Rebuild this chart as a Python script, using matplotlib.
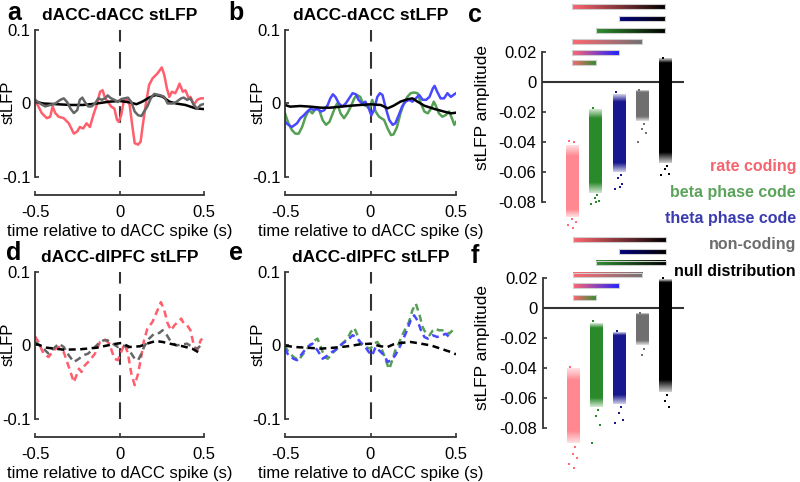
import numpy as np
import matplotlib.pyplot as plt
import matplotlib.colors as mcolors
from matplotlib.patches import Rectangle

plt.rcParams['font.family'] = ['Liberation Sans', 'DejaVu Sans']
plt.rcParams['font.size'] = 12
plt.rcParams['axes.unicode_minus'] = False

RED = '#FF5E6C'
GREEN = '#55A055'
BLUE = '#4848FF'
GRAY = '#666666'
BLACK = '#000000'
AXC = '#333333'

# ---- panel a: dACC-dACC, rate coding / non-coding / null
a_red_t = [-0.5, -0.46, -0.43, -0.41, -0.396, -0.38, -0.36, -0.33, -0.30, -0.27, -0.25, -0.235, -0.215, -0.195,
           -0.175, -0.155, -0.135, -0.115, -0.10, -0.085, -0.07, -0.05, -0.03, -0.015, -0.005, 0.01, 0.025, 0.04,
           0.06, 0.075, 0.09, 0.11, 0.125, 0.135, 0.155, 0.175, 0.195, 0.225, 0.25, 0.265, 0.28, 0.295, 0.31, 0.33,
           0.345, 0.355, 0.375, 0.39, 0.41, 0.42, 0.44, 0.46, 0.48, 0.495]
a_red_v = [0.005, -0.013, -0.020, -0.018, -0.004, -0.013, -0.018, -0.020, -0.027, -0.041, -0.038, -0.032, -0.034,
           -0.027, -0.032, -0.016, -0.002, 0.016, 0.018, 0.007, 0.003, -0.004, -0.007, -0.022, -0.025, -0.016, 0.003,
           0.007, -0.002, -0.029, -0.054, -0.056, -0.052, -0.034, -0.002, 0.025, 0.034, 0.041, 0.049, 0.039, 0.021,
           0.009, 0.016, 0.014, 0.021, 0.027, 0.016, 0.018, 0.007, 0.009, -0.002, 0.005, 0.007, 0.007]
a_gray_t = [-0.5, -0.47, -0.44, -0.41, -0.38, -0.35, -0.33, -0.31, -0.29, -0.27, -0.25, -0.235, -0.22, -0.205,
            -0.185, -0.165, -0.145, -0.125, -0.105, -0.085, -0.07, -0.05, -0.03, -0.01, 0.01, 0.03, 0.05, 0.07, 0.09,
            0.11, 0.13, 0.145, 0.165, 0.185, 0.205, 0.225, 0.245, 0.265, 0.285, 0.315, 0.335, 0.365, 0.38, 0.40,
            0.42, 0.44, 0.46, 0.48, 0.495]
a_gray_v = [0.005, 0, -0.004, -0.002, 0, 0.005, 0.007, 0.002, -0.007, -0.013, -0.009, 0.005, 0.008, 0.002, -0.004,
            -0.004, 0, 0.007, 0.005, 0.007, 0.011, 0.007, 0.005, 0.002, 0.006, 0.007, 0.008, 0.002, -0.011, -0.016,
            -0.017, -0.011, -0.004, 0.007, 0.013, 0.012, 0.011, 0.009, 0, 0, 0.002, 0.007, 0.008, 0.005, 0.007,
            -0.002, -0.007, -0.002, -0.001]
a_null_t = [-0.5, -0.45, -0.37, -0.29, -0.215, -0.135, -0.06, 0, 0.06, 0.10, 0.135, 0.175, 0.215, 0.255, 0.295,
            0.335, 0.39, 0.45, 0.495]
a_null_v = [0.0025, 0, -0.001, -0.002, -0.002, 0, 0.0025, 0.0034, 0.0016, -0.001, 0.0025, 0.008, 0.0116, 0.0093,
            0.0025, 0, -0.002, -0.0066, -0.0075]

# ---- panel b: dACC-dACC, theta / beta / null
b_blue_t = [-0.5, -0.48, -0.46, -0.43, -0.41, -0.39, -0.37, -0.35, -0.33, -0.31, -0.29, -0.27, -0.25, -0.235, -0.22,
            -0.205, -0.185, -0.165, -0.145, -0.125, -0.105, -0.085, -0.07, -0.05, -0.03, -0.01, 0.005, 0.02, 0.04,
            0.055, 0.07, 0.09, 0.11, 0.13, 0.145, 0.165, 0.185, 0.205, 0.225, 0.245, 0.265, 0.285, 0.305, 0.325,
            0.345, 0.365, 0.375, 0.39, 0.41, 0.43, 0.45, 0.47, 0.49, 0.5]
b_blue_v = [-0.025, -0.029, -0.032, -0.027, -0.020, -0.016, -0.011, -0.007, -0.009, -0.007, -0.011, -0.009, -0.002,
            0.007, 0.0125, 0.009, 0, -0.004, 0, 0.007, 0.014, 0.0125, 0.005, 0, 0.0025, -0.007, -0.016, -0.009, 0.009,
            0.014, 0.0116, -0.007, -0.0225, -0.029, -0.027, -0.016, -0.004, 0.0025, 0.005, 0.0025, 0.007, 0.0116,
            0.005, 0.005, 0.009, 0.0207, 0.024, 0.016, 0.007, 0.007, 0.014, 0.009, 0.0125, 0.014]
b_green_t = [-0.5, -0.48, -0.46, -0.44, -0.42, -0.40, -0.38, -0.36, -0.34, -0.32, -0.30, -0.28, -0.26, -0.24, -0.225,
             -0.205, -0.195, -0.175, -0.155, -0.135, -0.115, -0.095, -0.08, -0.06, -0.04, -0.02, -0.005, 0.01, 0.03,
             0.05, 0.08, 0.10, 0.12, 0.135, 0.155, 0.175, 0.195, 0.215, 0.235, 0.255, 0.275, 0.295, 0.315, 0.335,
             0.355, 0.37, 0.38, 0.40, 0.42, 0.44, 0.46, 0.48, 0.49, 0.5]
b_green_v = [-0.0134, -0.027, -0.036, -0.041, -0.041, -0.032, -0.018, -0.009, -0.0134, -0.0066, -0.009, -0.0225,
             -0.029, -0.025, -0.016, -0.004, 0, -0.0134, -0.020, -0.0134, -0.004, 0.007, 0.0116, 0.009, -0.002, -0.004,
             -0.0066, 0.005, -0.011, -0.018, -0.0225, -0.034, -0.043, -0.042, -0.032, -0.0134, 0, 0.009, 0.014, 0.015,
             0.014, 0, -0.011, -0.0134, -0.0066, 0.0025, -0.002, -0.0134, -0.018, -0.0157, -0.011, -0.0225, -0.029,
             -0.025]
b_null_t = [-0.5, -0.47, -0.41, -0.35, -0.29, -0.235, -0.175, -0.115, -0.06, 0, 0.06, 0.10, 0.135, 0.175, 0.215,
            0.245, 0.275, 0.315, 0.375, 0.43, 0.47, 0.5]
b_null_v = [-0.002, -0.0043, -0.0034, -0.0043, -0.0057, -0.0057, -0.0043, -0.003, -0.002, -0.0011, -0.002, -0.0066,
            -0.003, 0.0025, 0.0057, 0.007, 0.0025, -0.003, -0.0075, -0.011, -0.0134, -0.0125]

# ---- panel d: dACC-dlPFC, rate / non-coding / null
d_red_t = [-0.5, -0.48, -0.45, -0.42, -0.39, -0.36, -0.33, -0.30, -0.27, -0.24, -0.225, -0.205, -0.175, -0.145,
           -0.115, -0.085, -0.06, -0.03, -0.01, 0.01, 0.03, 0.05, 0.07, 0.09, 0.11, 0.13, 0.145, 0.165, 0.195, 0.225,
           0.245, 0.265, 0.285, 0.305, 0.325, 0.345, 0.365, 0.38, 0.40, 0.42, 0.44, 0.46, 0.48, 0.49]
d_red_v = [0.0125, 0.0048, -0.011, -0.0157, -0.0066, -0.002, -0.0089, -0.029, -0.050, -0.0316, -0.036, -0.027,
           -0.020, -0.011, 0.0048, 0.008, 0.0025, -0.018, -0.020, -0.0089, 0.0025, -0.011, -0.0384, -0.054, -0.0384,
           -0.0134, 0.007, 0.023, 0.032, 0.048, 0.059, 0.048, 0.030, 0.0207, 0.0275, 0.032, 0.0366, 0.030, 0.0275,
           0.0207, 0, -0.0066, 0.007, 0.0093]
d_gray_t = [-0.5, -0.47, -0.44, -0.42, -0.39, -0.36, -0.33, -0.30, -0.27, -0.24, -0.215, -0.185, -0.155, -0.125,
            -0.095, -0.07, -0.04, -0.01, 0.02, 0.05, 0.07, 0.09, 0.11, 0.13, 0.145, 0.175, 0.205, 0.235, 0.255, 0.275,
            0.305, 0.335, 0.375, 0.40, 0.43, 0.46, 0.48, 0.49]
d_gray_v = [0.0048, 0, -0.0066, -0.011, -0.0043, 0.0025, -0.002, -0.0134, -0.0225, -0.018, -0.0134, -0.011, -0.0043,
            0.0025, 0.007, 0.007, 0.0025, -0.002, 0, -0.002, -0.011, -0.018, -0.020, -0.011, -0.002, 0.0093, 0.016,
            0.017, 0.0207, 0.016, 0.0048, 0, 0.0016, 0.0025, -0.002, -0.0043, 0, 0.0025]
d_null_t = [-0.5, -0.43, -0.33, -0.235, -0.135, -0.04, 0.01, 0.06, 0.12, 0.175, 0.215, 0.255, 0.315, 0.375, 0.43,
            0.48]
d_null_v = [0.0025, -0.003, -0.0057, -0.0052, -0.003, 0.0016, 0.0034, -0.002, -0.0011, 0.0034, 0.0061, 0.0048,
            0.0016, -0.0011, -0.0043, -0.011]

# ---- panel e: dACC-dlPFC, beta / theta / null
e_green_t = [-0.5, -0.48, -0.45, -0.42, -0.40, -0.37, -0.34, -0.31, -0.29, -0.27, -0.25, -0.225, -0.195, -0.165,
             -0.135, -0.115, -0.095, -0.08, -0.06, -0.03, 0, 0.02, 0.04, 0.06, 0.08, 0.10, 0.11, 0.13, 0.145, 0.165,
             0.185, 0.205, 0.225, 0.245, 0.265, 0.285, 0.305, 0.325, 0.345, 0.365, 0.38, 0.40, 0.43, 0.46, 0.48, 0.5]
e_green_v = [0, -0.0089, -0.0157, -0.020, -0.0134, -0.0043, 0.0048, 0.0093, -0.002, -0.0157, -0.018, -0.011, -0.0043,
             0.0025, 0.0093, 0.0184, 0.024, 0.016, 0.0025, -0.002, -0.0043, 0.0025, 0.0048, -0.002, -0.0134, -0.027,
             -0.032, -0.018, -0.0066, 0.0025, 0.0139, 0.023, 0.032, 0.048, 0.057, 0.043, 0.025, 0.016, 0.0139, 0.0207,
             0.023, 0.0207, 0.0207, 0.016, 0.0207, 0.0207]
e_blue_t = [-0.5, -0.48, -0.45, -0.43, -0.40, -0.37, -0.34, -0.31, -0.28, -0.25, -0.225, -0.195, -0.165, -0.135,
            -0.105, -0.085, -0.06, -0.03, -0.01, 0.01, 0.03, 0.05, 0.08, 0.10, 0.12, 0.145, 0.175, 0.205, 0.235, 0.255,
            0.275, 0.295, 0.315, 0.335, 0.365, 0.39, 0.42, 0.44, 0.46, 0.48]
e_blue_v = [-0.0043, -0.0134, -0.018, -0.020, -0.011, -0.002, 0.0025, -0.0066, -0.018, -0.0134, -0.0089, -0.0043,
            0.0025, 0.007, 0.0139, 0.0116, 0.0048, -0.002, -0.0089, -0.0134, -0.002, -0.0066, -0.0134, -0.0225, -0.020,
            -0.0134, 0, 0.016, 0.034, 0.041, 0.034, 0.0207, 0.0116, 0.0093, 0.0139, 0.0116, 0.0139, 0.016, 0.0116,
            0.0093]
e_null_t = [-0.5, -0.45, -0.37, -0.29, -0.215, -0.135, -0.06, 0, 0.06, 0.10, 0.135, 0.175, 0.235, 0.295, 0.355, 0.41,
            0.47, 0.5]
e_null_v = [0, -0.002, -0.003, -0.0043, -0.003, -0.0011, 0.0016, 0.0025, -0.0011, -0.002, 0.0016, 0.0034, 0.0048,
            0.0025, 0, -0.0043, -0.0089, -0.012]

# ---- panels c / f: stLFP amplitude distributions (order: rate, beta, theta, non-coding, null)
groups = ['rate coding', 'beta phase code', 'theta phase code', 'non-coding', 'null distribution']
dot_colors = ['#FF6A76', '#2A8A2A', '#17178F', '#707070', '#000000']
label_colors = ['#F4646E', '#5BA35B', '#3B3BB0', '#6D6D6D', '#000000']
# dense core (top, bottom), looser zone (top, bottom), isolated dots
c_core = [(-0.049, -0.085), (-0.024, -0.067), (-0.013, -0.054), (-0.0067, -0.023), (0.013, -0.047)]
c_mid = [(-0.042, -0.090), (-0.018, -0.074), (-0.008, -0.060), (-0.0055, -0.026), (0.016, -0.054)]
c_dots = [[-0.039, -0.040, -0.091, -0.093, -0.095, -0.097],
          [-0.017, -0.075, -0.077, -0.079, -0.081, -0.080],
          [-0.0067, -0.062, -0.064, -0.068, -0.071, -0.070],
          [-0.0053, -0.028, -0.031, -0.034, -0.040],
          [0.016, -0.056, -0.058, -0.061, -0.062]]
f_core = [(-0.048, -0.082), (-0.013, -0.060), (-0.018, -0.058), (-0.005, -0.022), (0.017, -0.048)]
f_mid = [(-0.040, -0.090), (-0.010, -0.066), (-0.016, -0.064), (-0.004, -0.025), (0.019, -0.056)]
f_dots = [[-0.039, -0.093, -0.097, -0.100, -0.104, -0.107],
          [-0.0087, -0.068, -0.072, -0.078, -0.090],
          [-0.015, -0.066, -0.070, -0.075, -0.077],
          [-0.0035, -0.027, -0.031],
          [0.020, -0.058, -0.062, -0.066]]
# significance bars: (from group, to group), top to bottom
bar_pairs = [(1, 5), (3, 5), (2, 5), (1, 4), (1, 3), (1, 2)]
bar_start = ['#FF6670', '#000080', '#2F8F2F', '#FF6670', '#FF6670', '#FF6670']
bar_end = ['#000000', '#000000', '#000000', '#707070', '#2020FF', '#2F8F2F']
c_bar_y = [0.0502, 0.0425, 0.0345, 0.0269, 0.0198, 0.0129]
f_bar_y = [0.0457, 0.0377, 0.0300, 0.0220, 0.0147, 0.0067]

fig = plt.figure(figsize=(8, 4.82), dpi=100)
W, H = 800, 482


def add_ax(x0, y0, x1, y1):
    return fig.add_axes([x0 / W, 1 - y1 / H, (x1 - x0) / W, (y1 - y0) / H])


def line_panel(ax, title):
    ax.set_xlim(-0.5, 0.5)
    ax.set_ylim(-0.1245, 0.1)
    ax.spines['top'].set_visible(False)
    ax.spines['right'].set_visible(False)
    ax.spines['left'].set_bounds(-0.1, 0.1)
    for s in ['left', 'bottom']:
        ax.spines[s].set_color(AXC)
        ax.spines[s].set_linewidth(1.3)
    ax.set_xticks([-0.5, 0, 0.5])
    ax.set_xticklabels(['-0.5', '0', '0.5'])
    ax.set_yticks([-0.1, 0, 0.1])
    ax.set_yticklabels(['-0.1', '0', '0.1'])
    ax.tick_params(direction='in', length=3, width=1.2, color=AXC, pad=3)
    ax.tick_params(axis='x', pad=7)
    ax.plot([0, 0], [-0.1, 0.1], color=AXC, lw=1.5, dashes=(8, 5), zorder=1)
    ax.set_xlabel('time relative to dACC spike (s)', labelpad=3)
    ax.set_ylabel('stLFP')
    ax.yaxis.set_label_coords(-0.112, 0.56)
    ax.set_title(title, fontweight='bold', fontsize=12.5, pad=7)


def cloud(ax, x, w, col, core, mid, amax):
    # dense column, fading out towards the sparse ends
    n = 200
    ys = np.linspace(mid[1], mid[0], n)
    alpha = np.interp(ys, [mid[1], core[1], core[0], mid[0]], [0.2, amax, amax, 0.2])
    rgba = np.zeros((n, 1, 4))
    rgba[..., :3] = mcolors.to_rgb(col)
    rgba[:, 0, 3] = alpha
    ax.imshow(rgba, extent=[x - w / 2, x + w / 2, mid[1], mid[0]], origin='lower', aspect='auto',
              interpolation='bilinear', zorder=2)


def dist_panel(ax, core, mid, dots, bar_y, ylim):
    for s in ['top', 'right', 'bottom']:
        ax.spines[s].set_visible(False)
    ax.spines['left'].set_bounds(-0.08, 0.02)
    ax.spines['left'].set_color(AXC)
    ax.spines['left'].set_linewidth(1.3)
    ax.set_xticks([])
    ax.set_yticks([0.02, 0, -0.02, -0.04, -0.06, -0.08])
    ax.set_yticklabels(['0.02', '0', '-0.02', '-0.04', '-0.06', '-0.08'])
    ax.tick_params(direction='in', length=3, width=1.2, color=AXC, pad=4)
    ax.axhline(0, color=AXC, lw=1.5, zorder=1)
    offs = [-0.12, 0.08, -0.02, 0.15, -0.18, 0.04, 0.11]
    for i in range(5):
        x = i + 1
        cloud(ax, x, 0.52, dot_colors[i], core[i], mid[i], 0.8 if i == 0 else 1.0)
        ax.plot([x + offs[k % len(offs)] for k in range(len(dots[i]))], dots[i], 's',
                ms=1.8, mew=0, color=dot_colors[i], zorder=2)
    h = 0.0033
    for (g0, g1), y, c0, c1 in zip(bar_pairs, bar_y, bar_start, bar_end):
        a0 = np.array(mcolors.to_rgb(c0))
        a1 = np.array(mcolors.to_rgb(c1))
        ramp = a0 + (a1 - a0) * np.linspace(0, 1, 64)[:, None]
        ax.imshow(ramp[None, :, :], extent=[g0, g1, y - h / 2, y + h / 2], aspect='auto',
                  interpolation='bilinear', zorder=3)
        ax.add_patch(Rectangle((g0, y - h / 2), g1 - g0, h, fill=False, ec='#cfcfcf', lw=0.8, zorder=4))
    ax.set_xlim(-0.3, 5.8)
    ax.set_ylim(*ylim)


ax_a = add_ax(35, 30, 204, 195)
line_panel(ax_a, 'dACC-dACC stLFP')
ax_a.plot(a_red_t, a_red_v, color=RED, lw=1.8)
ax_a.plot(a_null_t, a_null_v, color=BLACK, lw=1.8)
ax_a.plot(a_gray_t, a_gray_v, color=GRAY, lw=1.8)

ax_b = add_ax(285, 30, 456, 195)
line_panel(ax_b, 'dACC-dACC stLFP')
ax_b.plot(b_green_t, b_green_v, color=GREEN, lw=1.8)
ax_b.plot(b_blue_t, b_blue_v, color=BLUE, lw=1.8)
ax_b.plot(b_null_t, b_null_v, color=BLACK, lw=1.8)

ax_d = add_ax(35, 272, 204, 437)
line_panel(ax_d, 'dACC-dlPFC stLFP')
ax_d.plot(d_red_t, d_red_v, color=RED, lw=1.8, dashes=(2.8, 1.8))
ax_d.plot(d_gray_t, d_gray_v, color=GRAY, lw=1.8, dashes=(2.8, 1.8))
ax_d.plot(d_null_t, d_null_v, color=BLACK, lw=1.8, dashes=(2.8, 1.8))

ax_e = add_ax(285, 272, 456, 437)
line_panel(ax_e, 'dACC-dlPFC stLFP')
ax_e.plot(e_green_t, e_green_v, color=GREEN, lw=1.8, dashes=(2.8, 1.8))
ax_e.plot(e_blue_t, e_blue_v, color=BLUE, lw=1.8, dashes=(2.8, 1.8))
ax_e.plot(e_null_t, e_null_v, color=BLACK, lw=1.8, dashes=(2.8, 1.8))

ax_c = add_ax(542, 1, 684, 235)
dist_panel(ax_c, c_core, c_mid, c_dots, c_bar_y, (-0.102, 0.054))
ax_f = add_ax(543, 236, 684, 473)
dist_panel(ax_f, f_core, f_mid, f_dots, f_bar_y, (-0.110, 0.048))

fig.text(483 / W, 1 - 108 / H, 'stLFP amplitude', rotation=90, ha='center', va='center', fontsize=12.5)
fig.text(483 / W, 1 - 347 / H, 'stLFP amplitude', rotation=90, ha='center', va='center', fontsize=12.5)

for name, col, y in zip(groups, label_colors, [167, 193, 218, 245, 271]):
    fig.text(796 / W, 1 - y / H, name, color=col, fontweight='bold', fontsize=11.5, ha='right', va='center')

for letter, x, y in [('a', 14, 13), ('b', 236, 13), ('c', 475, 15), ('d', 14, 253), ('e', 236, 253), ('f', 475, 256)]:
    fig.text(x / W, 1 - y / H, letter, fontweight='bold', fontsize=18, ha='center', va='center')

fig.savefig('out.png', dpi=100)
